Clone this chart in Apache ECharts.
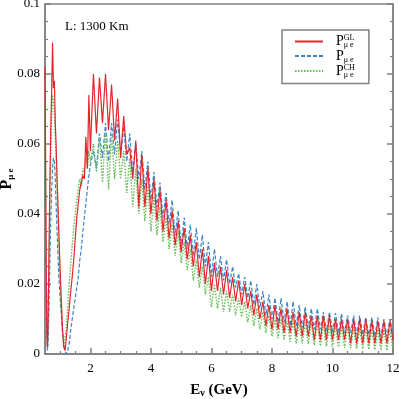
<!DOCTYPE html>
<html>
<head>
<meta charset="utf-8">
<script src="https://cdn.jsdelivr.net/npm/echarts@6/dist/echarts.min.js"></script>
<style>
  html, body { margin: 0; padding: 0; background: #fff; }
  #main { width: 399px; height: 399px; }
</style>
</head>
<body>
<div id="main"></div>
<script>
// neutrino energy grid (GeV)
var energy = [
  0.50,0.52,0.54,0.56,0.58,0.60,0.63,0.66,0.69,0.72,0.75,0.78,0.81,0.84,0.87,0.90,0.93,0.96,1.00,1.04,
  1.08,1.12,1.16,1.20,1.25,1.30,1.35,1.40,1.45,1.50,1.55,1.60,1.65,1.70,1.75,1.80,1.85,1.90,1.95,2.00,
  2.1,2.2,2.3,2.4,2.5,2.6,2.7,2.8,2.9,3.0,
  3.1,3.2,3.3,3.4,3.5,3.6,3.7,3.8,3.9,4.0,
  4.1,4.2,4.3,4.4,4.5,4.6,4.7,4.8,4.9,5.0,
  5.1,5.2,5.3,5.4,5.5,5.6,5.7,5.8,5.9,6.0,
  6.1,6.2,6.3,6.4,6.5,6.6,6.7,6.8,6.9,7.0,
  7.1,7.2,7.3,7.4,7.5,7.6,7.7,7.8,7.9,8.0,
  8.1,8.2,8.3,8.4,8.5,8.6,8.7,8.8,8.9,9.0,
  9.1,9.2,9.3,9.4,9.5,9.6,9.7,9.8,9.9,10.0,
  10.1,10.2,10.3,10.4,10.5,10.6,10.7,10.8,10.9,11.0,
  11.1,11.2,11.3,11.4,11.5,11.6,11.7,11.8,11.9,12.0
];

// P_mue (GL)
var probGL = [
  0.082,0.055,0.026,0.006,0.002,0.008,0.028,0.048,0.064,0.075,0.089,0.076,0.078,0.066,0.059,0.050,0.042,0.034,0.024,0.015,
  0.007,0.002,0.001,0.004,0.009,0.013,0.018,0.022,0.027,0.033,0.039,0.043,0.047,0.049,0.051,0.050,0.062,0.053,0.074,0.058,
  0.080,0.063,0.079,0.066,0.080,0.064,0.077,0.061,0.073,0.056,
  0.068,0.057,0.059,0.050,0.061,0.042,0.057,0.042,0.053,0.040,
  0.050,0.038,0.047,0.035,0.044,0.033,0.041,0.031,0.038,0.029,
  0.036,0.027,0.034,0.025,0.032,0.022,0.030,0.020,0.028,0.018,
  0.026,0.018,0.025,0.017,0.024,0.016,0.022,0.015,0.021,0.014,
  0.020,0.013,0.018,0.011,0.017,0.010,0.015,0.008,0.014,0.007,
  0.014,0.007,0.013,0.006,0.013,0.006,0.012,0.005,0.012,0.005,
  0.012,0.005,0.011,0.004,0.011,0.004,0.011,0.004,0.011,0.004,
  0.010,0.004,0.010,0.004,0.010,0.003,0.010,0.003,0.010,0.003,
  0.010,0.003,0.0095,0.003,0.0095,0.003,0.0095,0.003,0.0095,0.004
];

// P_mue (standard)
var probStd = [
  0.055,0.035,0.017,0.005,0.001,0.003,0.013,0.026,0.038,0.047,0.053,0.056,0.055,0.050,0.042,0.035,0.028,0.022,0.016,0.011,
  0.006,0.003,0.001,0.000,0.001,0.003,0.007,0.010,0.013,0.016,0.019,0.022,0.027,0.030,0.035,0.039,0.043,0.047,0.051,0.054,
  0.058,0.053,0.063,0.056,0.066,0.055,0.066,0.057,0.067,0.057,
  0.065,0.055,0.063,0.052,0.060,0.050,0.058,0.047,0.055,0.044,
  0.052,0.042,0.049,0.039,0.046,0.037,0.044,0.034,0.041,0.031,
  0.039,0.030,0.037,0.028,0.036,0.027,0.034,0.025,0.032,0.022,
  0.030,0.022,0.028,0.021,0.027,0.020,0.025,0.019,0.023,0.017,
  0.022,0.016,0.021,0.014,0.020,0.013,0.018,0.011,0.017,0.010,
  0.016,0.009,0.016,0.009,0.015,0.008,0.015,0.008,0.014,0.0075,
  0.0135,0.0075,0.013,0.007,0.013,0.007,0.012,0.0065,0.012,0.0063,
  0.0117,0.006,0.0115,0.006,0.011,0.006,0.011,0.0055,0.011,0.0055,
  0.0105,0.0055,0.0105,0.005,0.0105,0.005,0.010,0.005,0.010,0.005
];

// P_mue (CH)
var probCH = [
  0.072,0.048,0.022,0.005,0.002,0.009,0.027,0.044,0.058,0.068,0.074,0.072,0.069,0.062,0.055,0.047,0.039,0.031,0.022,0.013,
  0.006,0.002,0.002,0.007,0.013,0.020,0.026,0.031,0.036,0.040,0.044,0.047,0.050,0.048,0.053,0.051,0.056,0.053,0.058,0.055,
  0.060,0.052,0.062,0.049,0.064,0.047,0.063,0.050,0.061,0.050,
  0.058,0.046,0.056,0.042,0.053,0.040,0.050,0.038,0.048,0.035,
  0.045,0.034,0.042,0.032,0.039,0.030,0.037,0.028,0.035,0.026,
  0.032,0.024,0.030,0.021,0.027,0.019,0.025,0.017,0.022,0.0134,
  0.020,0.013,0.019,0.012,0.018,0.012,0.017,0.011,0.016,0.0106,
  0.015,0.009,0.014,0.008,0.013,0.007,0.012,0.006,0.011,0.005,
  0.0103,0.0045,0.010,0.004,0.0095,0.0035,0.0095,0.003,0.009,0.003,
  0.009,0.0028,0.0088,0.0025,0.0087,0.0023,0.0085,0.0022,0.0083,0.002,
  0.0082,0.002,0.008,0.0018,0.0078,0.0017,0.0076,0.0015,0.0075,0.0015,
  0.0074,0.0013,0.0072,0.0012,0.0071,0.0011,0.007,0.001,0.007,0.001
];

var xMajorTicks = [2, 4, 6, 8, 10, 12];
var xMinorTicks = [1, 1.5, 2.5, 3, 3.5, 4.5, 5, 5.5, 6.5, 7, 7.5, 8.5, 9, 9.5, 10.5, 11, 11.5];

var serif = 'Liberation Serif';
var frame = '#808080';

function pairs(vals) {
    return energy.map(function (e, i) { return [e, vals[i]]; });
}

// legend labels: P with super/subscripts
var legendText = {
    'GL': '{g|}{p|P}{sup|GL}{sub|μ e}',
    'STD': '{g|}{p|P}{sub|μ e}',
    'CH': '{g|}{p|P}{sup|CH}{sub|μ e}'
};

var myChart = echarts.init(document.getElementById('main'));
myChart.setOption({
    animation: false,
    title: {
        text: 'L: 1300 Km',
        left: 60,
        top: 15,
        textStyle: { fontFamily: serif, fontSize: 13, fontWeight: 'normal', color: '#000' }
    },
    legend: {
        orient: 'vertical',
        left: 282,
        top: 30,
        padding: [4, 14, 5, 12],
        itemGap: 0,
        itemWidth: 28,
        itemHeight: 10,
        borderColor: frame,
        borderWidth: 1.5,
        borderRadius: 0,
        itemStyle: { opacity: 0 },
        data: ['GL', 'STD', 'CH'],
        formatter: function (name) { return legendText[name]; },
        textStyle: {
            fontFamily: serif,
            color: '#000',
            rich: {
                g: { width: 8, lineHeight: 15 },
                p: { fontSize: 14, lineHeight: 15, fontFamily: serif },
                sup: { fontSize: 8, width: 0, verticalAlign: 'top', lineHeight: 15, fontFamily: serif },
                sub: { fontSize: 8, verticalAlign: 'bottom', lineHeight: 15, fontFamily: serif }
            }
        }
    },
    grid: {
        left: 45, right: 6, top: 4, bottom: 45,
        outerBoundsMode: 'none',
        show: true, borderColor: frame, borderWidth: 1.5
    },
    xAxis: [{
        type: 'value',
        min: 0.5,
        max: 12,
        name: '{b|E}{s|ν}{b| (GeV)}',
        nameLocation: 'middle',
        nameGap: 28,
        nameTextStyle: {
            rich: {
                b: { fontFamily: serif, fontSize: 15, fontWeight: 'bold', color: '#000' },
                s: { fontFamily: serif, fontSize: 10, fontWeight: 'bold', color: '#000', verticalAlign: 'bottom', padding: [6, 0, 0, 0] }
            }
        },
        splitLine: { show: false },
        axisLine: { show: true, onZero: false, lineStyle: { color: frame, width: 1.5 } },
        axisTick: { inside: true, length: 6, customValues: xMajorTicks, lineStyle: { color: frame, width: 1.5 } },
        axisLabel: { customValues: xMajorTicks, margin: 8, fontFamily: serif, fontSize: 13, color: '#000' }
    }, {
        type: 'value',
        min: 0.5,
        max: 12,
        position: 'bottom',
        splitLine: { show: false },
        axisLine: { show: false },
        axisTick: { inside: true, length: 3, customValues: xMinorTicks, lineStyle: { color: frame, width: 1.2 } },
        axisLabel: { show: false }
    }],
    yAxis: [{
        type: 'value',
        min: 0,
        max: 0.1,
        interval: 0.02,
        name: '{b|P}{s|μ e}',
        nameLocation: 'middle',
        nameRotate: 90,
        nameGap: 30,
        nameMoveOverlap: false,
        nameTextStyle: {
            rich: {
                b: { fontFamily: serif, fontSize: 16, fontWeight: 'bold', color: '#000' },
                s: { fontFamily: serif, fontSize: 9, fontWeight: 'bold', color: '#000', verticalAlign: 'bottom', padding: [6, 0, 0, 0] }
            }
        },
        splitLine: { show: false },
        axisLine: { show: true, lineStyle: { color: frame, width: 1.5 } },
        axisTick: { inside: true, length: 6, lineStyle: { color: frame, width: 1.5 } },
        minorTick: { show: true, splitNumber: 4, length: 3, lineStyle: { color: frame, width: 1.2 } },
        axisLabel: { margin: 5, fontFamily: serif, fontSize: 13, color: '#000' }
    }, {
        type: 'value',
        min: 0,
        max: 0.1,
        interval: 0.02,
        position: 'right',
        splitLine: { show: false },
        axisLine: { show: true, lineStyle: { color: frame, width: 1.5 } },
        axisTick: { inside: true, length: 6, lineStyle: { color: frame, width: 1.5 } },
        minorTick: { show: true, splitNumber: 4, length: 3, lineStyle: { color: frame, width: 1.2 } },
        axisLabel: { show: false }
    }],
    series: [{
        name: 'GL',
        type: 'line',
        z: 4,
        symbol: 'none',
        color: '#e3262b',
        lineStyle: { color: '#e3262b', width: 1.2 },
        data: pairs(probGL)
    }, {
        name: 'STD',
        type: 'line',
        z: 2,
        symbol: 'none',
        color: '#3d85c6',
        lineStyle: { color: '#3d85c6', width: 1.2, type: [4, 2] },
        data: pairs(probStd)
    }, {
        name: 'CH',
        type: 'line',
        z: 3,
        symbol: 'none',
        color: '#62bb52',
        lineStyle: { color: '#62bb52', width: 1.4, type: [1.5, 1.5] },
        data: pairs(probCH)
    }]
});
</script>
</body>
</html>
